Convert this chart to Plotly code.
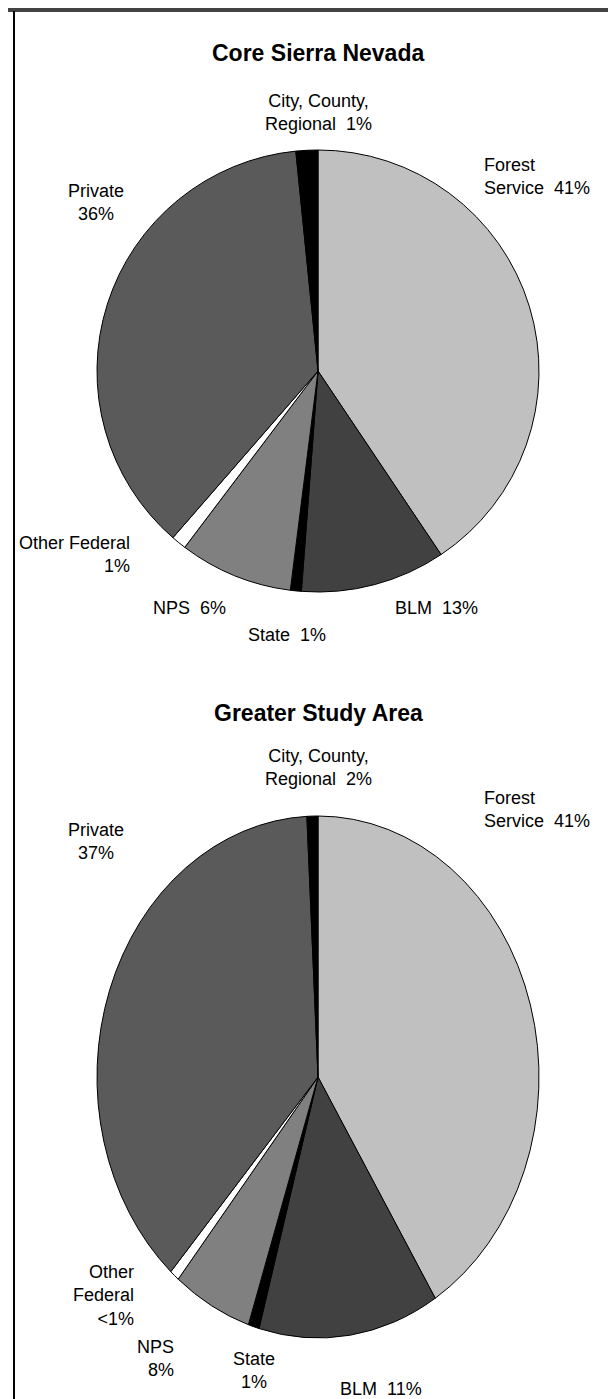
import plotly.graph_objects as go

# ---- data ----
categories = ["Forest Service", "BLM", "State", "NPS", "Other Federal", "Private", "City, County, Regional"]
core_values = [40.6, 10.6, 0.8, 8.3, 1.1, 37.0, 1.6]
greater_values = [41.1, 13.2, 0.8, 5.8, 0.7, 37.6, 0.8]
core_pct = ["41%", "13%", "1%", "6%", "1%", "36%", "1%"]
greater_pct = ["41%", "11%", "1%", "8%", "<1%", "37%", "2%"]
titles = ["Core Sierra Nevada", "Greater Study Area"]

# ---- style ----
colors = ["#c0c0c0", "#414141", "#000000", "#808080", "#ffffff", "#5a5a5a", "#000000"]
W, H = 616, 1399
FONT = "Liberation Sans, Arial, sans-serif"
SP = "\u00a0\u00a0"  # double gap between name and percent
LABEL_SIZE = 18
TITLE_SIZE = 23


def px(x):
    return x / W


def py(y):
    return 1 - y / H


fig = go.Figure()

# pie geometry (pixels): centre x, centre y, horizontal radius, vertical radius
pies = [
    dict(vals=core_values, cx=310, cy=363, rx=221, ry=221),
    dict(vals=greater_values, cx=310, cy=1069, rx=221, ry=261),
]
for p in pies:
    fig.add_trace(go.Pie(
        labels=categories, values=p["vals"], sort=False, direction="clockwise",
        rotation=0, textinfo="none", hoverinfo="label+percent",
        marker=dict(colors=colors, line=dict(color="#000000", width=1)),
        domain=dict(x=[px(p["cx"] - p["rx"]), px(p["cx"] + p["rx"])],
                    y=[py(p["cy"] + p["rx"]), py(p["cy"] - p["rx"])]),
        showlegend=False,
    ))

# label layouts: (text template, x, y, xanchor, align)
core_layout = [
    ("Forest<br>Service" + SP + "{p}", 474, 168, "left", "left"),
    ("BLM" + SP + "{p}", 385, 600, "left", "left"),
    ("State" + SP + "{p}", 238, 627, "left", "left"),
    ("NPS" + SP + "{p}", 143, 600, "left", "left"),
    ("Other Federal<br>{p}", 124, 546, "right", "right"),
    ("Private<br>{p}", 88, 195, "center", "center"),
    ("City, County,<br>Regional" + SP + "{p}", 310, 105, "center", "center"),
]
greater_layout = [
    ("Forest<br>Service" + SP + "{p}", 474, 801, "left", "left"),
    ("BLM" + SP + "{p}", 330, 1381, "left", "left"),
    ("State<br>{p}", 246, 1362, "center", "center"),
    ("NPS<br>{p}", 168, 1350, "right", "right"),
    ("Other<br>Federal<br>{p}", 128, 1287, "right", "right"),
    ("Private<br>{p}", 88, 833, "center", "center"),
    ("City, County,<br>Regional" + SP + "{p}", 310, 759, "center", "center"),
]

annotations = []
for lay, pcts in [(core_layout, core_pct), (greater_layout, greater_pct)]:
    for (tpl, x, y, xa, al), pc in zip(lay, pcts):
        annotations.append(dict(
            text=tpl.format(p=pc), x=px(x), y=py(y), xref="paper", yref="paper",
            xanchor=xa, yanchor="middle", align=al, showarrow=False,
            font=dict(family=FONT, size=LABEL_SIZE, color="#000000"),
        ))

for t, y in zip(titles, [45, 705]):
    annotations.append(dict(
        text="<b>" + t + "</b>", x=px(310), y=py(y), xref="paper", yref="paper",
        xanchor="center", yanchor="middle", showarrow=False,
        font=dict(family=FONT, size=TITLE_SIZE, color="#000000"),
    ))

shapes = [
    dict(type="line", xref="paper", yref="paper", x0=0, x1=1, y0=py(2), y1=py(2),
         line=dict(color="#444444", width=4)),
    dict(type="line", xref="paper", yref="paper", x0=px(6), x1=px(6), y0=py(3), y1=0,
         line=dict(color="#000000", width=2)),
]

fig.update_layout(
    width=W, height=H, margin=dict(l=0, r=0, t=0, b=0),
    paper_bgcolor="#ffffff", plot_bgcolor="#ffffff",
    annotations=annotations, shapes=shapes,
    font=dict(family=FONT),
)

# the second pie in the reference is stretched vertically (an ellipse):
# scale the plotly-drawn pie group about its centre after rendering
p2 = pies[1]
sy = p2["ry"] / p2["rx"]
post = """
var gd = document.getElementById('{plot_id}');
var tr = gd.querySelectorAll('.pielayer .trace');
if (tr.length > 1) {
  var t = tr[1];
  var old = t.getAttribute('transform') || '';
  t.setAttribute('transform', 'translate(0,%f) scale(1,%f) translate(0,%f) ' + old);
  t.querySelectorAll('path').forEach(function(pth){ pth.setAttribute('vector-effect','non-scaling-stroke'); pth.style.vectorEffect='non-scaling-stroke'; });
}
""" % (p2["cy"], sy, -p2["cy"])

fig.write_html("out.html", post_script=post)
